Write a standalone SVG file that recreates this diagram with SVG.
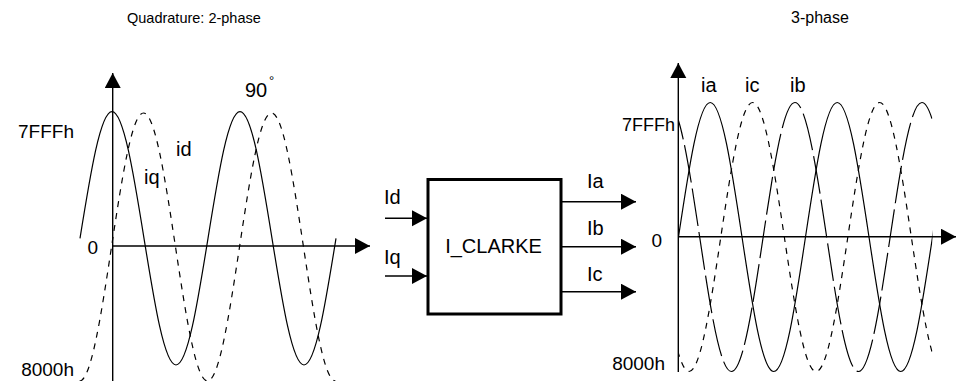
<svg xmlns="http://www.w3.org/2000/svg" xmlns:xlink="http://www.w3.org/1999/xlink" width="956" height="381" viewBox="0 0 956 381">
<style>
text{font-family:"Liberation Sans",Arial,Helvetica,sans-serif;fill:#000}
.l{font-size:20px}
.m{font-size:19px}
.ax{stroke:#000;stroke-width:1.4;fill:none}
.cv{stroke:#000;stroke-width:1.2;fill:none}
.sd{stroke-dasharray:6 6}
.ld{stroke-dasharray:38 6}
.box{fill:#fff;stroke:#000;stroke-width:3}
</style>
<defs>
<marker id="ah" markerUnits="userSpaceOnUse" markerWidth="16" markerHeight="17" refX="15" refY="8" orient="auto" viewBox="0 0 16 17">
<path d="M0,0 L15,8 L0,16 z" fill="#000"/>
</marker>
<clipPath id="rclip"><rect x="678.5" y="0" width="254" height="381"/></clipPath>
<path id="rwave" d="M551.5,237 c10.35,-68.9 20.26,-134.5 31.75,-134.5 c11.49,0 21.4,65.6 31.75,134.5 c10.35,68.9 20.26,134.5 31.75,134.5 c11.49,0 21.4,-65.6 31.75,-134.5 c10.35,-68.9 20.26,-134.5 31.75,-134.5 c11.49,0 21.4,65.6 31.75,134.5 c10.35,68.9 20.26,134.5 31.75,134.5 c11.49,0 21.4,-65.6 31.75,-134.5 c10.35,-68.9 20.26,-134.5 31.75,-134.5 c11.49,0 21.4,65.6 31.75,134.5 c10.35,68.9 20.26,134.5 31.75,134.5 c11.49,0 21.4,-65.6 31.75,-134.5 c10.35,-68.9 20.26,-134.5 31.75,-134.5 c11.49,0 21.4,65.6 31.75,134.5 c10.35,68.9 20.26,134.5 31.75,134.5 c11.49,0 21.4,-65.6 31.75,-134.5"/>
</defs>
<rect width="956" height="381" fill="#fff"/>

<g id="left-chart">
<text x="127" y="23" font-size="14.5">Quadrature: 2-phase</text>
<line class="ax" x1="112.7" y1="381" x2="112.7" y2="73" marker-end="url(#ah)"/>
<line class="ax" x1="112.7" y1="246" x2="370" y2="246" marker-end="url(#ah)"/>
<path id="id-wave" class="cv" d="M80,238.3 c10.43,-64.9 20.42,-126.7 32,-126.7 c11.58,0 21.57,61.8 32,126.7 c10.43,64.9 20.42,126.7 32,126.7 c11.58,0 21.57,-61.8 32,-126.7 c10.43,-64.9 20.42,-126.7 32,-126.7 c11.58,0 21.57,61.8 32,126.7 c10.43,64.9 20.42,126.7 32,126.7 c11.58,0 21.57,-61.8 32,-126.7"/>
<path id="iq-wave" class="cv sd" d="M79.5,381 c11.58,0 21.57,-65.35 32,-134 c10.43,-68.65 20.42,-134 32,-134 c11.58,0 21.57,65.35 32,134 c10.43,68.65 20.42,134 32,134 c11.58,0 21.57,-65.35 32,-134 c10.43,-68.65 20.42,-134 32,-134 c11.58,0 21.57,65.35 32,134 c10.43,68.65 20.42,134 32,134"/>
<text class="m" x="74" y="137.5" text-anchor="end">7FFFh</text>
<text class="m" x="98" y="254" text-anchor="end">0</text>
<text class="m" x="74" y="376" text-anchor="end">8000h</text>
<text class="l" x="144" y="184">iq</text>
<text class="l" x="176" y="156">id</text>
<text class="l" x="245" y="97">90<tspan font-size="13" x="269" y="84.5">°</tspan></text>
</g>

<g id="i_clarke">
<rect class="box" x="428" y="179.5" width="133" height="134.5"/>
<text class="l" x="493.5" y="253" text-anchor="middle">I_CLARKE</text>
<text class="l" x="384" y="204">Id</text>
<text class="l" x="384" y="264">Iq</text>
<text class="l" x="587" y="188">Ia</text>
<text class="l" x="587" y="235">Ib</text>
<text class="l" x="587" y="281">Ic</text>
</g>

<g id="connectors">
<line class="ax" x1="385" y1="218.3" x2="427" y2="218.3" marker-end="url(#ah)"/>
<line class="ax" x1="385" y1="276" x2="427" y2="276" marker-end="url(#ah)"/>
<line class="ax" x1="562" y1="201.7" x2="636" y2="201.7" marker-end="url(#ah)"/>
<line class="ax" x1="562" y1="246.7" x2="636" y2="246.7" marker-end="url(#ah)"/>
<line class="ax" x1="562" y1="291.7" x2="636" y2="291.7" marker-end="url(#ah)"/>
</g>

<g id="right-chart">
<text x="820" y="23" font-size="16" text-anchor="middle">3-phase</text>
<line class="ax" x1="678.3" y1="372" x2="678.3" y2="63" marker-end="url(#ah)"/>
<line class="ax" x1="678.3" y1="236.7" x2="956" y2="236.7" marker-end="url(#ah)"/>
<g clip-path="url(#rclip)">
<use xlink:href="#rwave" class="cv"/>
<use xlink:href="#rwave" class="cv sd" transform="translate(42.33,0)"/>
<use xlink:href="#rwave" class="cv ld" transform="translate(-42.33,0)"/>
</g>
<text x="675" y="131" font-size="18" text-anchor="end">7FFFh</text>
<text class="m" x="662" y="247" text-anchor="end">0</text>
<text class="m" x="665" y="370" text-anchor="end">8000h</text>
<text class="l" x="701" y="91.5">ia</text>
<text class="l" x="745" y="91.5">ic</text>
<text class="l" x="790" y="91.5">ib</text>
</g>
</svg>
